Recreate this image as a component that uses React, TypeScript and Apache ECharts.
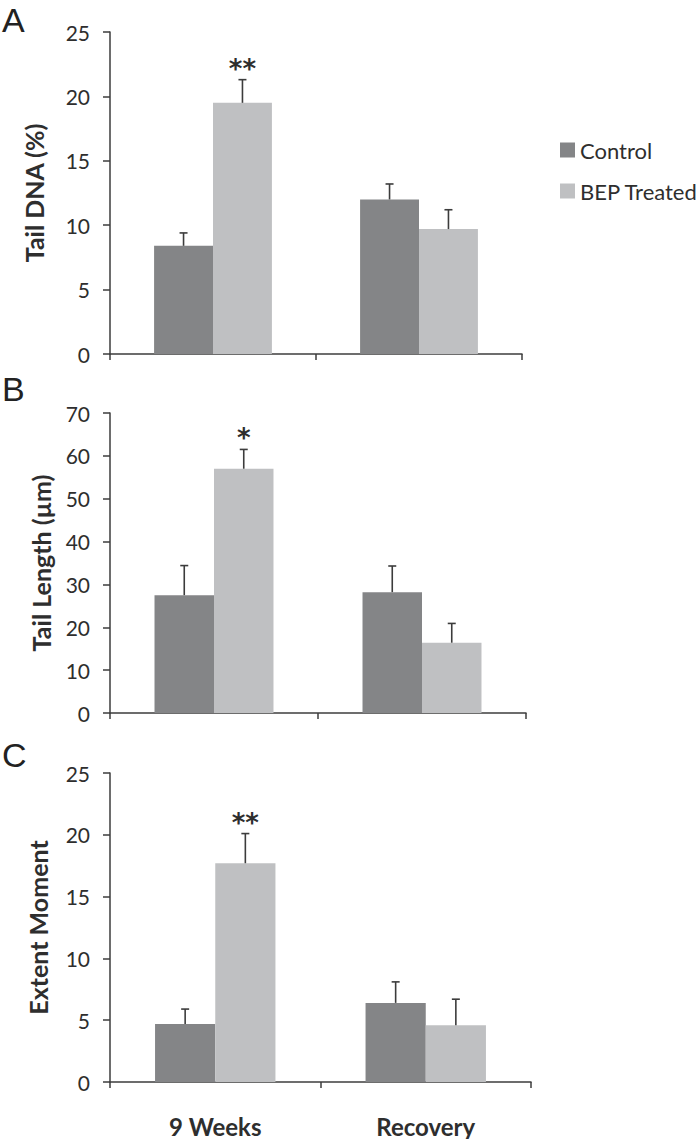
import React, { useEffect, useRef } from "react";
import * as echarts from "echarts";

const categories = ["9 Weeks", "Recovery"];
const seriesNames = ["Control", "BEP Treated"];

const tailDnaControl = [8.4, 12.0];
const tailDnaControlErr = [1.0, 1.2];
const tailDnaBep = [19.5, 9.7];
const tailDnaBepErr = [1.8, 1.5];
const tailDnaStars = ["**", ""];

const tailLengthControl = [27.5, 28.2];
const tailLengthControlErr = [6.9, 6.1];
const tailLengthBep = [57.0, 16.4];
const tailLengthBepErr = [4.5, 4.5];
const tailLengthStars = ["*", ""];

const extentControl = [4.7, 6.4];
const extentControlErr = [1.2, 1.7];
const extentBep = [17.7, 4.6];
const extentBepErr = [2.4, 2.1];
const extentStars = ["**", ""];

const panelLetters = ["A", "B", "C"];
const yNames = ["Tail DNA (%)", "Tail Length (µm)", "Extent Moment"];
const yMax = [25, 70, 25];
const yInterval = [5, 10, 5];

const CONTROL_COLOR = "#848587";
const BEP_COLOR = "#bfc0c2";
const AXIS_COLOR = "#3c3c3c";
const TEXT_COLOR = "#2e2e2e";
const BAR_FRAC = 0.286;

export default function App() {
  const ref = useRef<HTMLDivElement>(null);
  useEffect(() => {
    document.body.style.margin = "0";
    if (!ref.current) return;
    const chart = echarts.init(ref.current, null, { renderer: "svg" });

    const panels = [
      { c: tailDnaControl, ce: tailDnaControlErr, b: tailDnaBep, be: tailDnaBepErr, stars: tailDnaStars },
      { c: tailLengthControl, ce: tailLengthControlErr, b: tailLengthBep, be: tailLengthBepErr, stars: tailLengthStars },
      { c: extentControl, ce: extentControlErr, b: extentBep, be: extentBepErr, stars: extentStars },
    ];

    const grids = [
      { left: 110, top: 32, width: 412, height: 322 },
      { left: 110, top: 413, width: 416, height: 300 },
      { left: 110, top: 773, width: 421, height: 309 },
    ];
    const nameGaps = [64, 57, 60];

    const xAxes = grids.map((_, i) => ({
      type: "category",
      gridIndex: i,
      data: categories,
      axisLine: { show: true, lineStyle: { color: AXIS_COLOR, width: 1.5 } },
      axisTick: { show: true, length: 6, lineStyle: { color: AXIS_COLOR, width: 1.5 } },
      axisLabel: {
        show: i === 2,
        fontSize: 24,
        fontWeight: "bold",
        color: TEXT_COLOR,
        margin: 32,
        fontFamily: "Lato",
      },
    }));

    const yAxes = grids.map((_, i) => ({
      type: "value",
      gridIndex: i,
      min: 0,
      max: yMax[i],
      interval: yInterval[i],
      splitLine: { show: false },
      axisLine: { show: true, lineStyle: { color: AXIS_COLOR, width: 1.5 } },
      axisTick: { show: true, length: 7, lineStyle: { color: AXIS_COLOR, width: 1.5 } },
      axisLabel: { fontSize: 21, color: TEXT_COLOR, margin: 20, fontFamily: "Lato" },
      name: yNames[i],
      nameLocation: "middle",
      nameGap: nameGaps[i],
      nameTextStyle: { fontSize: 25, fontWeight: "bold", color: TEXT_COLOR, fontFamily: "Lato" },
    }));

    const series: any[] = [];
    panels.forEach((p, i) => {
      series.push({
        type: "bar",
        name: seriesNames[0],
        xAxisIndex: i,
        yAxisIndex: i,
        data: p.c,
        barWidth: BAR_FRAC * 100 + "%",
        barGap: "0%",
        itemStyle: { color: CONTROL_COLOR },
      });
      series.push({
        type: "bar",
        name: seriesNames[1],
        xAxisIndex: i,
        yAxisIndex: i,
        data: p.b,
        barWidth: BAR_FRAC * 100 + "%",
        barGap: "0%",
        itemStyle: { color: BEP_COLOR },
      });
      [
        { vals: p.c, errs: p.ce, side: -1, stars: ["", ""] },
        { vals: p.b, errs: p.be, side: 1, stars: p.stars },
      ].forEach((s) => {
        series.push({
          type: "custom",
          coordinateSystem: "cartesian2d",
          xAxisIndex: i,
          yAxisIndex: i,
          z: 10,
          silent: true,
          data: s.vals.map((v, k) => [k, v, s.errs[k]]),
          renderItem: (params: any, api: any) => {
            const x = api.value(0);
            const v = api.value(1);
            const e = api.value(2);
            const base = api.coord([x, v]);
            const top = api.coord([x, v + e]);
            const cw = api.size([1, 0])[0];
            const cx = base[0] + (s.side * cw * BAR_FRAC) / 2;
            const children: any[] = [
              {
                type: "line",
                shape: { x1: cx, y1: base[1], x2: cx, y2: top[1] },
                style: { stroke: AXIS_COLOR, lineWidth: 1.6 },
              },
              {
                type: "line",
                shape: { x1: cx - 4, y1: top[1], x2: cx + 4, y2: top[1] },
                style: { stroke: AXIS_COLOR, lineWidth: 1.6 },
              },
            ];
            const star = s.stars[params.dataIndex];
            if (star) {
              children.push({
                type: "text",
                style: {
                  text: star,
                  x: cx,
                  y: top[1] - 11,
                  align: "center",
                  verticalAlign: "middle",
                  fontSize: 26,
                  fontWeight: "bold",
                  fontFamily: "DejaVu Sans",
                  fill: TEXT_COLOR,
                },
              });
            }
            return { type: "group", children };
          },
        });
      });
    });

    const letterTop = [3, 372, 738];
    const graphic = panelLetters.map((t, i) => ({
      type: "text",
      left: 2,
      top: letterTop[i],
      style: {
        text: t,
        fontSize: 34,
        fontFamily: "Liberation Sans",
        fill: "#222",
      },
    }));

    chart.setOption({
      animation: false,
      textStyle: { fontFamily: "Lato" },
      legend: {
        orient: "vertical",
        left: 555,
        top: 134,
        icon: "rect",
        itemWidth: 15,
        itemHeight: 15,
        itemGap: 19,
        data: seriesNames,
        textStyle: { fontSize: 22, color: TEXT_COLOR, fontFamily: "Lato" },
      },
      grid: grids,
      xAxis: xAxes,
      yAxis: yAxes,
      series,
      graphic,
    });
    return () => chart.dispose();
  }, []);
  return <div ref={ref} style={{ width: 697, height: 1139 }} />;
}
